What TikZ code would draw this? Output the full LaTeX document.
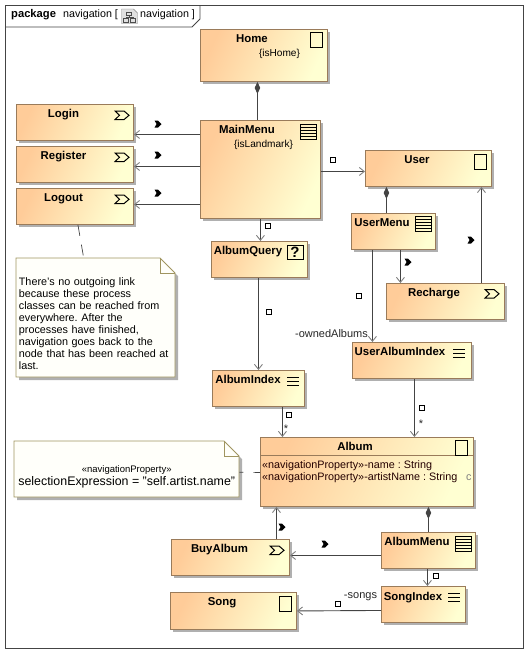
\documentclass[tikz,border=0pt]{standalone}
\usepackage{fontspec}
\setmainfont{Liberation Sans}
\usepackage{tikz}
\usetikzlibrary{arrows.meta,shadows,backgrounds}
\definecolor{boxedge}{HTML}{9A7B5A}
\definecolor{noteedge}{HTML}{A09560}
\definecolor{boxleft}{HTML}{FFCC99}
\definecolor{boxright}{HTML}{FFFFD2}
\definecolor{linkcol}{HTML}{444444}
\definecolor{shadowcol}{HTML}{B0B0B0}
\definecolor{notefill}{HTML}{FFFFFA}
\frenchspacing

\tikzset{
    classicon/.pic={\draw[black, line width=0.9pt, fill=none] (0,0) rectangle (12,15);},
    menuicon/.pic={\draw[black, line width=0.9pt] (0,0) rectangle (16,15);
        \foreach \yy in {3,6,9,12} \draw[black, line width=0.9pt] (0,\yy) -- (16,\yy);},
    indexicon/.pic={\foreach \yy in {0,4,8} \draw[black, line width=0.9pt] (0,\yy) -- (12,\yy);},
    processicon/.pic={\draw[black, line width=1pt] (0,0) -- (9,0) -- (14,4.3) -- (9,8.6) -- (0,8.6) -- (4.5,4.3) -- cycle;},
    navmark/.pic={\fill[black] (-3.5,-3.5) -- (0,-3.5) -- (3.5,0) -- (0,3.5) -- (-3.5,3.5) -- (-1.4,0) -- cycle;},
    endmark/.pic={\draw[black, line width=0.8pt, fill=white] (-2.5,-2.5) rectangle (2.5,2.5);},
    packicon/.pic={\draw[gray, fill=black!12] (0,0) -- (12,0) -- (16,4) -- (16,14.5) -- (0,14.5) -- cycle;
        \draw[black!70, line width=0.6pt] (5,3) rectangle (10,6.5) (2,9) rectangle (7,13) (9,9) rectangle (14,13)
            (7.5,6.5) -- (7.5,8) (4.5,8) -- (11.5,8) (4.5,8) -- (4.5,9) (11.5,8) -- (11.5,9);}
}

\begin{document}
\begin{tikzpicture}[x=1pt, y=-1pt]
    % Define block styles
    \tikzstyle{block} = [rectangle, draw=boxedge, line width=0.9pt, anchor=north west, inner sep=0pt,
        left color=boxleft, right color=boxright, shading angle=65,
        drop shadow={shadow xshift=3pt, shadow yshift=-3pt, opacity=1, fill=shadowcol}]
    \tikzstyle{boxtitle} = [font=\fontsize{11.4}{13}\selectfont\bfseries, inner sep=0pt, text=black, anchor=base, yshift=-4pt]
    \tikzstyle{constraint} = [font=\fontsize{10.1}{12}\selectfont, inner sep=0pt]
    \tikzstyle{endlabel} = [font=\fontsize{11}{13}\selectfont, inner sep=0pt, text=black!85]
    \tikzstyle{attribute} = [font=\fontsize{10.8}{12}\selectfont, inner sep=0pt, anchor=base west, text=black!80!red!70!black]
    \tikzstyle{noteblock} = [rectangle, anchor=north west, inner ysep=0pt, align=left]
    \tikzstyle{noteline} = [draw=noteedge, line width=0.9pt, fill=notefill]
    \tikzstyle{line} = [draw=linkcol, line width=0.9pt, -{Straight Barb[length=5pt, width=8pt, color=gray]}]
    \tikzstyle{comp} = [draw=linkcol, line width=0.9pt, {Diamond[length=12pt, width=5.5pt, color=linkcol]}-]
    \tikzstyle{anchorline} = [draw=linkcol, line width=0.7pt]

    \useasboundingbox (0,0) rectangle (532,657);

    % Package frame
    \draw[linkcol, line width=0.9pt] (5.5,5.5) rectangle (523,648);
    \draw[linkcol, line width=0.9pt] (5.5,27) -- (192,27) -- (200,19) -- (200,5.5);
    \node[font=\fontsize{11.2}{13}\selectfont\bfseries, inner sep=0pt, anchor=west] (packword) at (11,14.5) {package};
    \node[font=\fontsize{10.7}{13}\selectfont, inner sep=0pt, anchor=west] (packname) at (63,14.5) {navigation [};
    \pic at (121.5,9) {packicon};
    \node[font=\fontsize{10.7}{13}\selectfont, inner sep=0pt, anchor=west] (packdiagram) at (140,14.5) {navigation ]};

    % Place nodes
    \node [block, minimum width=127pt, minimum height=52pt] (home) at (200,29) {};
    \node [block, minimum width=120pt, minimum height=98pt] (mainmenu) at (200,120) {};
    \node [block, minimum width=117pt, minimum height=36pt] (login) at (16,104) {};
    \node [block, minimum width=117pt, minimum height=36pt] (register) at (16,146) {};
    \node [block, minimum width=117pt, minimum height=36pt] (logout) at (16,188) {};
    \node [block, minimum width=126pt, minimum height=36pt] (user) at (365,150) {};
    \node [block, minimum width=84pt, minimum height=36pt] (usermenu) at (351,213) {};
    \node [block, minimum width=118pt, minimum height=36pt] (recharge) at (386,283) {};
    \node [block, minimum width=96pt, minimum height=36pt] (albumquery) at (211,241) {};
    \node [block, minimum width=92pt, minimum height=36pt] (albumindex) at (212,370) {};
    \node [block, minimum width=119pt, minimum height=36pt] (useralbumindex) at (352,342) {};
    \node [block, minimum width=213pt, minimum height=69pt] (album) at (260,437) {};
    \node [block, minimum width=94pt, minimum height=36pt] (albummenu) at (381,532) {};
    \node [block, minimum width=118pt, minimum height=36pt] (buyalbum) at (171,539) {};
    \node [block, minimum width=126pt, minimum height=37pt] (song) at (170,592) {};
    \node [block, minimum width=84pt, minimum height=36pt] (songindex) at (381,586) {};

    % Titles
    \node [boxtitle] (hometitle) at (252,38) {Home};
    \node [constraint] (homeprop) at (279.5,54) {\{isHome\}};
    \node [boxtitle] (mainmenutitle) at (247,129) {MainMenu};
    \node [constraint] (mainmenuprop) at (263.5,145) {\{isLandmark\}};
    \node [boxtitle] (logintitle) at (63.5,113) {Login};
    \node [boxtitle] (registertitle) at (63.5,155) {Register};
    \node [boxtitle] (logouttitle) at (63.5,197) {Logout};
    \node [boxtitle] (usertitle) at (417,159) {User};
    \node [boxtitle] (usermenutitle) at (382,222) {UserMenu};
    \node [boxtitle] (rechargetitle) at (434,292) {Recharge};
    \node [boxtitle] (albumquerytitle) at (248,250) {AlbumQuery};
    \node [boxtitle] (albumindextitle) at (248,379) {AlbumIndex};
    \node [boxtitle] (useralbumindextitle) at (400,351) {UserAlbumIndex};
    \node [boxtitle] (albumtitle) at (355,446) {Album};
    \node [boxtitle] (albummenutitle) at (417,541) {AlbumMenu};
    \node [boxtitle] (buyalbumtitle) at (219.5,548) {BuyAlbum};
    \node [boxtitle] (songtitle) at (222,601) {Song};
    \node [boxtitle] (songindextitle) at (413,596) {SongIndex};

    % Album attributes
    \draw[boxedge, line width=0.9pt] ([yshift=-18pt]album.north west) -- ([yshift=-18pt]album.north east);
    \node [attribute] (albumname) at (262,468) {«navigationProperty»-name : String};
    \node [attribute] (albumartist) at (262,480) {«navigationProperty»-artistName : String};
    \node [attribute, text=gray] (albummark) at (466,480) {c};

    % Icons
    \pic at (310,32) {classicon};
    \pic at (474,154) {classicon};
    \pic at (455,440) {classicon};
    \pic at (279,596) {classicon};
    \pic at (300,124) {menuicon};
    \pic at (415,216) {menuicon};
    \pic at (455,536) {menuicon};
    \pic at (287,377) {indexicon};
    \pic at (453,349) {indexicon};
    \pic at (448,593) {indexicon};
    \pic at (115,111) {processicon};
    \pic at (115,153) {processicon};
    \pic at (115,195) {processicon};
    \pic at (485,289.5) {processicon};
    \pic at (270,546) {processicon};
    \draw[black, line width=0.9pt] (287,245) rectangle (303,259);
    \node [font=\fontsize{15}{15}\selectfont\bfseries, inner sep=0pt] (queryicon) at (295,252) {?};

    % Notes
    \node [noteblock, inner xsep=2.7pt, text width=153.6pt, minimum width=159pt, minimum height=119pt, font=\fontsize{10.8}{12}\selectfont] (note) at (16,258)
        {\rule{0pt}{20pt}There's no outgoing link\\because these process\\classes can be reached from\\everywhere. After the\\processes have finished,\\navigation goes back to the\\node that has been reached at\\last.};
    \node [rectangle, anchor=north west, inner sep=0pt, minimum width=225pt, minimum height=56pt, align=center, font=\fontsize{12.4}{12.5}\selectfont] (propnote) at (14,441)
        {\rule{0pt}{22pt}{\fontsize{9.5}{11}\selectfont «navigationProperty»}\\selectionExpression = "self.artist.name"};
    \begin{scope}[on background layer]
        \fill[shadowcol] (19,380) -- (19,261) -- (163,261) -- (178,276) -- (178,380) -- cycle;
        \fill[shadowcol] (17,500) -- (17,444) -- (227,444) -- (242,459) -- (242,500) -- cycle;
        \draw[noteline] (16,377) -- (16,258) -- (160,258) -- (175,273) -- (175,377) -- cycle;
        \draw[noteedge, line width=0.9pt] (160,258) -- (160,273) -- (175,273);
        \draw[noteline] (14,497) -- (14,441) -- (224,441) -- (239,456) -- (239,497) -- cycle;
        \draw[noteedge, line width=0.9pt] (224,441) -- (224,456) -- (239,456);
    \end{scope}

    % Draw edges
    \path [comp] ([xshift=-6.5pt]home.south) -- ([xshift=-3pt]mainmenu.north);
    \path [line] ([yshift=35pt]mainmenu.west) -- ([yshift=-12pt]login.east);
    \path [line] ([yshift=3pt]mainmenu.west) -- ([yshift=-2pt]register.east);
    \path [line] ([yshift=-35pt]mainmenu.west) -- ([yshift=2pt]logout.east);
    \path [line] ([yshift=-2pt]mainmenu.east) -- ([yshift=-3pt]user.west);
    \path [line] (mainmenu.south) -- ([xshift=1pt]albumquery.north);
    \path [line] ([xshift=-1pt]albumquery.south) -- (albumindex.north);
    \path [comp] ([xshift=-42pt]user.south) -- ([xshift=-7pt]usermenu.north);
    \path [line] ([xshift=-21pt]usermenu.south) -- ([xshift=-39.5pt]useralbumindex.north);
    \path [line] ([xshift=7pt]usermenu.south) -- ([xshift=-45pt]recharge.north);
    \path [line] ([xshift=36pt]recharge.north) -- ([xshift=53pt]user.south);
    \path [line] ([xshift=24pt]albumindex.south) -- ([xshift=-84.5pt]album.north);
    \path [line] ([xshift=2.5pt]useralbumindex.south) -- ([xshift=47.5pt]album.north);
    \path [line] ([xshift=46pt]buyalbum.north) -- ([xshift=-90.5pt]album.south);
    \path [comp] ([xshift=61.5pt]album.south) -- (albummenu.north);
    \path [line] ([yshift=-5pt]albummenu.west) -- ([yshift=2pt]buyalbum.east);
    \path [line] ([xshift=-1pt]albummenu.south) -- ([xshift=4pt]songindex.north);
    \path [line] ([yshift=-6pt]songindex.west) -- (song.east);
    \path [anchorline, dash pattern=on 11pt off 9pt] ([xshift=3pt]logout.south) -- ([xshift=-12pt]note.north);
    \path [anchorline, dash pattern=on 4pt off 10pt on 10pt off 9pt] ([yshift=-3pt]propnote.east) -- ([yshift=-0.5pt]album.west);

    % End labels
    \pic at (158,124) {navmark};
    \pic at (158,155) {navmark};
    \pic at (158,193) {navmark};
    \pic at (408,262) {navmark};
    \pic at (471,240) {navmark};
    \pic at (282,527) {navmark};
    \pic at (325,544) {navmark};
    \pic at (333,160) {endmark};
    \pic at (268,226) {endmark};
    \pic at (359,296) {endmark};
    \pic at (269,312) {endmark};
    \pic at (289,415) {endmark};
    \pic at (422,408) {endmark};
    \pic at (436,576) {endmark};
    \pic at (338,604) {endmark};
    \node [endlabel] (star1) at (286,429) {*};
    \node [endlabel] (star2) at (421,424) {*};
    \node [endlabel] (ownedalbums) at (331.5,334) {-ownedAlbums};
    \node [endlabel] (songs) at (360.5,597) {-songs};
\end{tikzpicture}
\end{document}
